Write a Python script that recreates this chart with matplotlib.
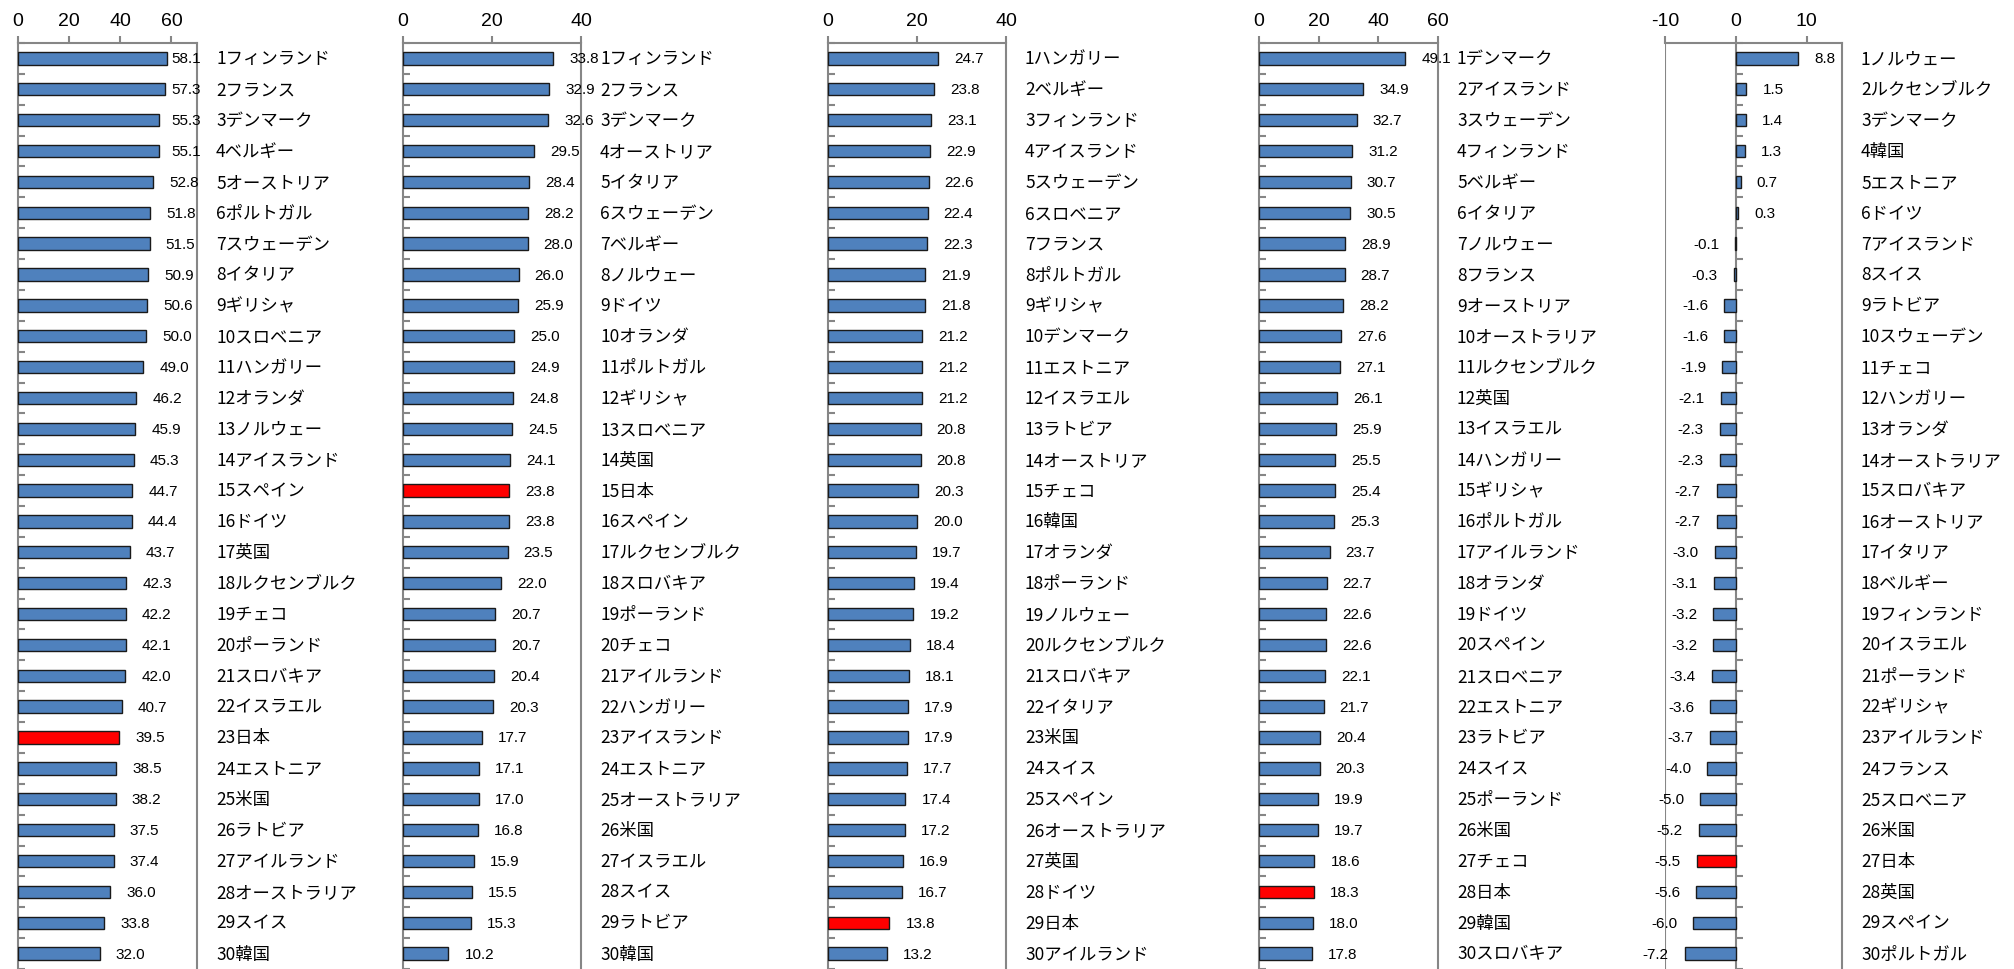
"""
OECD ranking panels: five horizontal bar charts with ranked country labels
"""
import numpy as np
import matplotlib
matplotlib.use("Agg")
from matplotlib import pyplot as plt

# Panel 1
names1 = ["フィンランド", "フランス", "デンマーク", "ベルギー", "オーストリア", "ポルトガル",
          "スウェーデン", "イタリア", "ギリシャ", "スロベニア", "ハンガリー", "オランダ",
          "ノルウェー", "アイスランド", "スペイン", "ドイツ", "英国", "ルクセンブルク",
          "チェコ", "ポーランド", "スロバキア", "イスラエル", "日本", "エストニア",
          "米国", "ラトビア", "アイルランド", "オーストラリア", "スイス", "韓国"]
values1 = [58.1, 57.3, 55.3, 55.1, 52.8, 51.8, 51.5, 50.9, 50.6, 50.0,
           49.0, 46.2, 45.9, 45.3, 44.7, 44.4, 43.7, 42.3, 42.2, 42.1,
           42.0, 40.7, 39.5, 38.5, 38.2, 37.5, 37.4, 36.0, 33.8, 32.0]

# Panel 2
names2 = ["フィンランド", "フランス", "デンマーク", "オーストリア", "イタリア", "スウェーデン",
          "ベルギー", "ノルウェー", "ドイツ", "オランダ", "ポルトガル", "ギリシャ",
          "スロベニア", "英国", "日本", "スペイン", "ルクセンブルク", "スロバキア",
          "ポーランド", "チェコ", "アイルランド", "ハンガリー", "アイスランド", "エストニア",
          "オーストラリア", "米国", "イスラエル", "スイス", "ラトビア", "韓国"]
values2 = [33.8, 32.9, 32.6, 29.5, 28.4, 28.2, 28.0, 26.0, 25.9, 25.0,
           24.9, 24.8, 24.5, 24.1, 23.8, 23.8, 23.5, 22.0, 20.7, 20.7,
           20.4, 20.3, 17.7, 17.1, 17.0, 16.8, 15.9, 15.5, 15.3, 10.2]

# Panel 3
names3 = ["ハンガリー", "ベルギー", "フィンランド", "アイスランド", "スウェーデン", "スロベニア",
          "フランス", "ポルトガル", "ギリシャ", "デンマーク", "エストニア", "イスラエル",
          "ラトビア", "オーストリア", "チェコ", "韓国", "オランダ", "ポーランド",
          "ノルウェー", "ルクセンブルク", "スロバキア", "イタリア", "米国", "スイス",
          "スペイン", "オーストラリア", "英国", "ドイツ", "日本", "アイルランド"]
values3 = [24.7, 23.8, 23.1, 22.9, 22.6, 22.4, 22.3, 21.9, 21.8, 21.2,
           21.2, 21.2, 20.8, 20.8, 20.3, 20.0, 19.7, 19.4, 19.2, 18.4,
           18.1, 17.9, 17.9, 17.7, 17.4, 17.2, 16.9, 16.7, 13.8, 13.2]

# Panel 4
names4 = ["デンマーク", "アイスランド", "スウェーデン", "フィンランド", "ベルギー", "イタリア",
          "ノルウェー", "フランス", "オーストリア", "オーストラリア", "ルクセンブルク", "英国",
          "イスラエル", "ハンガリー", "ギリシャ", "ポルトガル", "アイルランド", "オランダ",
          "ドイツ", "スペイン", "スロベニア", "エストニア", "ラトビア", "スイス",
          "ポーランド", "米国", "チェコ", "日本", "韓国", "スロバキア"]
values4 = [49.1, 34.9, 32.7, 31.2, 30.7, 30.5, 28.9, 28.7, 28.2, 27.6,
           27.1, 26.1, 25.9, 25.5, 25.4, 25.3, 23.7, 22.7, 22.6, 22.6,
           22.1, 21.7, 20.4, 20.3, 19.9, 19.7, 18.6, 18.3, 18.0, 17.8]

# Panel 5
names5 = ["ノルウェー", "ルクセンブルク", "デンマーク", "韓国", "エストニア", "ドイツ",
          "アイスランド", "スイス", "ラトビア", "スウェーデン", "チェコ", "ハンガリー",
          "オランダ", "オーストラリア", "スロバキア", "オーストリア", "イタリア", "ベルギー",
          "フィンランド", "イスラエル", "ポーランド", "ギリシャ", "アイルランド", "フランス",
          "スロベニア", "米国", "日本", "英国", "スペイン", "ポルトガル"]
values5 = [8.8, 1.5, 1.4, 1.3, 0.7, 0.3, -0.1, -0.3, -1.6, -1.6,
           -1.9, -2.1, -2.3, -2.3, -2.7, -2.7, -3.0, -3.1, -3.2, -3.2,
           -3.4, -3.6, -3.7, -4.0, -5.0, -5.2, -5.5, -5.6, -6.0, -7.2]

xlims = [(0, 70), (0, 40), (0, 40), (0, 60), (-10, 15)]
xticks = [[0, 20, 40, 60], [0, 20, 40], [0, 20, 40], [0, 20, 40, 60], [-10, 0, 10]]

# Layout in pixels of the 2014x970 canvas
FIG_W, FIG_H = 2014, 970
TOP = 44
ROW = 31.0
lefts = [18, 403, 828, 1259, 1665]
widths = [179, 178, 178, 179, 177]
clamps = [4, None, None, None, None]   # max px past right border for value labels

GRAY = "#868686"
BLUE = "#4F81BD"
RED = "#FF0000"
NUM_FONT = "Liberation Sans"
JP_FONT = ["Noto Sans CJK JP", "DejaVu Sans"]


def draw_panel(fig, names, values, xlim, ticks, left, width, clamp):
    ax = fig.add_axes([left / FIG_W, 0, width / FIG_W, (FIG_H - TOP) / FIG_H])
    n = len(values)
    y = np.arange(n)
    colors = [RED if name == "日本" else BLUE for name in names]
    ax.barh(y, values, height=0.4, color=colors, edgecolor="#1a1a1a", linewidth=1.0, zorder=3)

    ax.set_xlim(*xlim)
    top_off = 15.0 / ROW
    ax.set_ylim(-top_off + (FIG_H - TOP) / ROW, -top_off)

    # spines
    for s in ["left", "top", "right"]:
        ax.spines[s].set_color(GRAY)
        ax.spines[s].set_linewidth(1.5)
    ax.spines["bottom"].set_visible(False)
    if xlim[0] < 0:
        ax.spines["left"].set_position(("data", 0))
        ax.axvline(xlim[0], color=GRAY, lw=1.5, zorder=1)

    # x axis on top
    ax.xaxis.tick_top()
    ax.set_xticks(ticks)
    ax.set_xticklabels([str(t) for t in ticks], fontsize=14, family=NUM_FONT)
    ax.tick_params(axis="x", which="both", direction="out", length=5, width=1.5,
                   color=GRAY, pad=5, bottom=False)

    # y ticks at category boundaries
    ax.set_yticks(np.arange(-0.5, n, 1.0))
    ax.set_yticklabels([])
    ax.tick_params(axis="y", direction="in", length=5, width=1.5, color=GRAY, right=False)

    # value labels
    ppu = width / (xlim[1] - xlim[0])
    border = xlim[1]
    for i, v in enumerate(values):
        txt = "%.1f" % v
        if v >= 0:
            x = v + 16 / ppu
            ha = "left"
            if clamp is not None and x + 30 / ppu > border + clamp / ppu:
                x = border + clamp / ppu
                ha = "right"
        else:
            x = v - 16 / ppu
            ha = "right"
        ax.text(x, i, txt, ha=ha, va="center", fontsize=11, family=NUM_FONT,
                color="black", clip_on=False, zorder=4)

    # ranked country labels to the right of the plot
    for i, name in enumerate(names):
        ax.annotate("%d%s" % (i + 1, name), xy=(1, i), xycoords=ax.get_yaxis_transform(),
                    xytext=(19 * 0.72, 0), textcoords="offset points",
                    ha="left", va="center", fontsize=12.5, family=JP_FONT,
                    color="black", annotation_clip=False)
    return ax


def main():
    fig = plt.figure(figsize=(FIG_W / 100, FIG_H / 100), dpi=100)
    all_names = [names1, names2, names3, names4, names5]
    all_values = [values1, values2, values3, values4, values5]
    for k in range(5):
        draw_panel(fig, all_names[k], all_values[k], xlims[k], xticks[k],
                   lefts[k], widths[k], clamps[k])
    fig.savefig("out.png", dpi=100)
    plt.close(fig)


if (__name__ == "__main__"):
    main()
